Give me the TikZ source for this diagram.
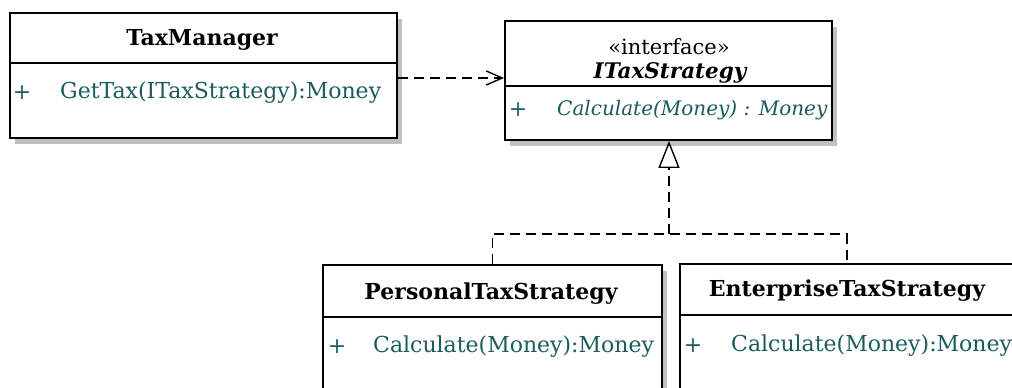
\documentclass[tikz,border=0pt]{standalone}
\usepackage{fontspec}
\setmainfont{DejaVu Serif}
\usepackage{tikz}
\usetikzlibrary{arrows.meta,calc,positioning,shadows}
\definecolor{opcol}{RGB}{28,92,92}
\definecolor{shadecol}{RGB}{192,192,192}

\begin{document}
\begin{tikzpicture}[x=1pt,y=-1pt,>=Stealth,
    classbox/.style={draw,line width=1.9pt,fill=white,anchor=north west,inner sep=0pt,
        drop shadow={shadow xshift=5pt,shadow yshift=-6pt,fill=shadecol,opacity=1}},
    title/.style={font=\fontsize{22}{26}\selectfont\bfseries},
    op/.style={font=\fontsize{22}{26}\selectfont,text=opcol,inner sep=0pt},
    depline/.style={dashed,dash pattern=on 10pt off 6pt,line width=1.4pt},
    implline/.style={dashed,dash pattern=on 10pt off 6pt,line width=1.4pt}]
                \useasboundingbox (0,0) rectangle (1012,388);
                \clip (0,0) rectangle (1012,388);

                % Boxes
                \node[classbox,minimum width=387pt,minimum height=125pt] (mgr) at (9,12) {};
                \node[classbox,minimum width=327pt,minimum height=119pt] (strat) at (504,20) {};
                \node[classbox,minimum width=339pt,minimum height=160pt] (personal) at (322,264) {};
                \node[classbox,minimum width=334pt,minimum height=160pt] (enterprise) at (679,263) {};

                % Dividers
                \draw[line width=1.6pt] (mgr.west |- 0,63) -- (mgr.east |- 0,63);
                \draw[line width=1.6pt] (strat.west |- 0,86) -- (strat.east |- 0,86);
                \draw[line width=1.6pt] (personal.west |- 0,317) -- (personal.east |- 0,317);
                \draw[line width=1.6pt] (enterprise.west |- 0,315) -- (enterprise.east |- 0,315);

                % Names
                \node[title] (mgrname) at (202,40) {TaxManager};
                \node[font=\fontsize{21}{24}\selectfont] (stereo) at (669,47) {«interface»};
                \node[title,font=\fontsize{21.5}{25}\selectfont\bfseries\itshape] (stratname) at (670,73) {ITaxStrategy};
                \node[title] (personalname) at (491,294) {PersonalTaxStrategy};
                \node[title] (enterprisename) at (847,291) {EnterpriseTaxStrategy};

                % Operations
                \node[op] (mgrplus) at (22,93) {+};
                \node[op,anchor=west] (mgrop) at (60,93) {GetTax(ITaxStrategy):Money};
                \node[op] (stratplus) at (518,110) {+};
                \node[op,anchor=west,font=\fontsize{20}{24}\selectfont\itshape] (stratop) at (557,110) {Calculate(Money) : Money};
                \node[op] (personalplus) at (337,347) {+};
                \node[op,anchor=west] (personalop) at (373,347) {Calculate(Money):Money};
                \node[op] (enterpriseplus) at (693,346) {+};
                \node[op,anchor=west] (enterpriseop) at (731,346) {Calculate(Money):Money};

                % Dependency
                \draw[depline,-{Straight Barb[length=16pt,width=14pt,line width=1.4pt]}] (mgr.east |- 0,78) -- (strat.west |- 0,78);

                % Realization
                \coordinate (hub) at (669,234);
                \draw[implline] (personal.north) |- (hub) -| (enterprise.north);
                \draw[implline,-{Triangle[open,length=27pt,width=21pt,line width=1.4pt]}] (hub) -- (strat.south -| hub);
            \end{tikzpicture}
\end{document}
